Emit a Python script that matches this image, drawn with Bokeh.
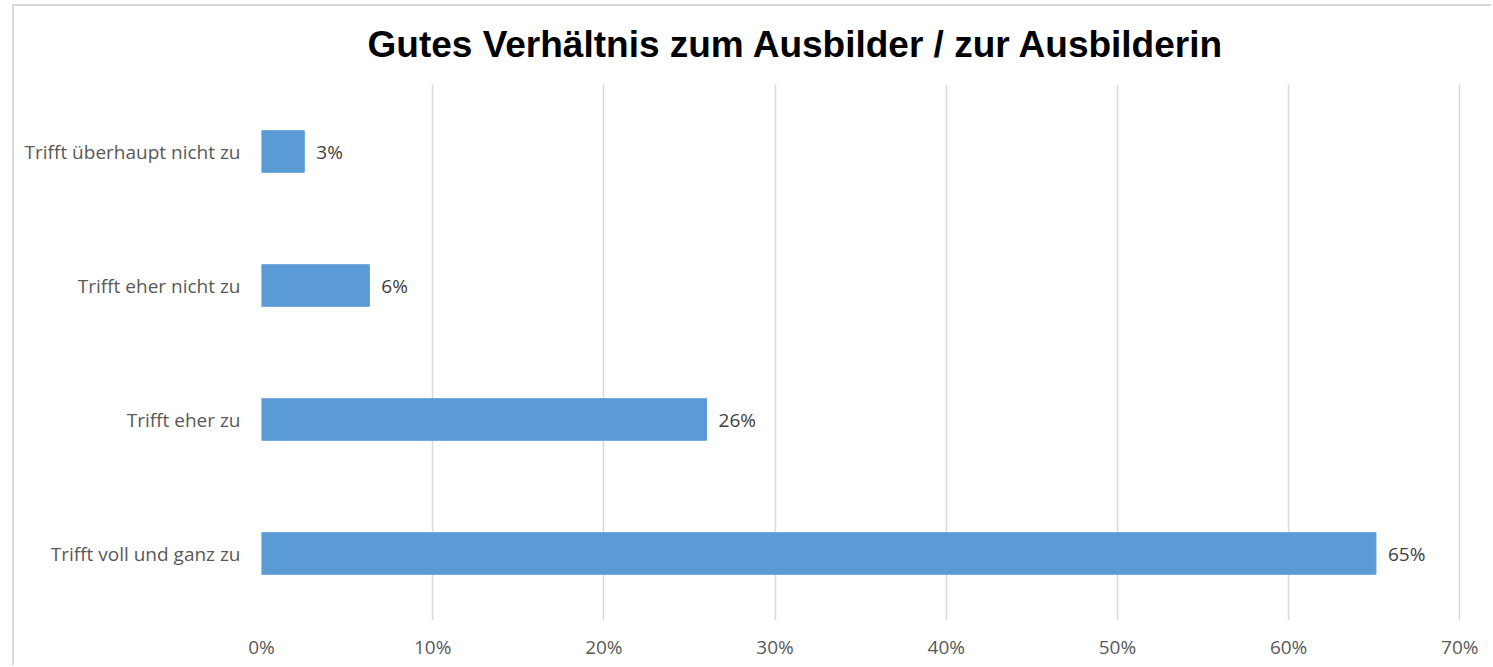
from bokeh.plotting import figure
from bokeh.models import ColumnDataSource, FactorRange, Range1d, FixedTicker, LabelSet, Title
from bokeh.core.properties import value
from bokeh.embed import file_html
from bokeh.resources import INLINE

title_text = "Gutes Verhältnis zum Ausbilder / zur Ausbilderin"
categories = ["Trifft überhaupt nicht zu", "Trifft eher nicht zu", "Trifft eher zu", "Trifft voll und ganz zu"]
values = [2.5, 6.3, 26.0, 65.1]
value_labels = ["3%", "6%", "26%", "65%"]
x_ticks = [0, 10, 20, 30, 40, 50, 60, 70]
x_tick_labels = ["0%", "10%", "20%", "30%", "40%", "50%", "60%", "70%"]

source = ColumnDataSource(dict(cat=categories, val=values, lab=value_labels))

W, H = 1479, 661
left, frame_w, top, frame_h = 247, 1200, 78, 536

p = figure(width=W, height=H, output_backend="svg", toolbar_location=None,
           y_range=FactorRange(*list(reversed(categories))),
           x_range=Range1d(0, 70.1),
           min_border_left=left, min_border_right=W - left - frame_w,
           min_border_top=top, min_border_bottom=H - top - frame_h)
p.outline_line_color = None
p.styles = {"margin-left": "12px", "margin-top": "4px",
            "border-left": "2px solid #d9d9d9", "border-top": "2px solid #d9d9d9"}

p.hbar(y="cat", right="val", height=0.31, source=source, color="#5B9BD5")

p.add_layout(LabelSet(x="val", y="cat", text="lab", source=source, x_offset=12,
                      text_baseline="middle", text_font=value("Open Sans"),
                      text_font_size="19px", text_color="#404040"))

p.xaxis.ticker = FixedTicker(ticks=x_ticks)
p.xaxis.major_label_overrides = {t: l for t, l in zip(x_ticks, x_tick_labels)}
p.xaxis.axis_line_color = None
p.xaxis.major_tick_line_color = None
p.xaxis.minor_tick_line_color = None
p.xaxis.major_label_text_font = "Open Sans"
p.xaxis.major_label_text_font_size = "19px"
p.xaxis.major_label_text_color = "#595959"
p.xaxis.major_label_standoff = 7

p.yaxis.axis_line_color = None
p.yaxis.major_tick_line_color = None
p.yaxis.major_label_text_font = "Open Sans"
p.yaxis.major_label_text_font_size = "19px"
p.yaxis.major_label_text_color = "#595959"
p.yaxis.major_label_standoff = 15

p.ygrid.grid_line_color = None
p.xgrid.grid_line_color = "#d9d9d9"
p.xgrid.grid_line_width = 1.5

p.add_layout(Title(text=title_text, align="left", offset=106, standoff=35,
                   vertical_align="top",
                   text_font="Liberation Sans", text_font_style="bold",
                   text_font_size="37px", text_color="#000000"), "above")

open("out.html", "w").write(file_html(p, INLINE))
